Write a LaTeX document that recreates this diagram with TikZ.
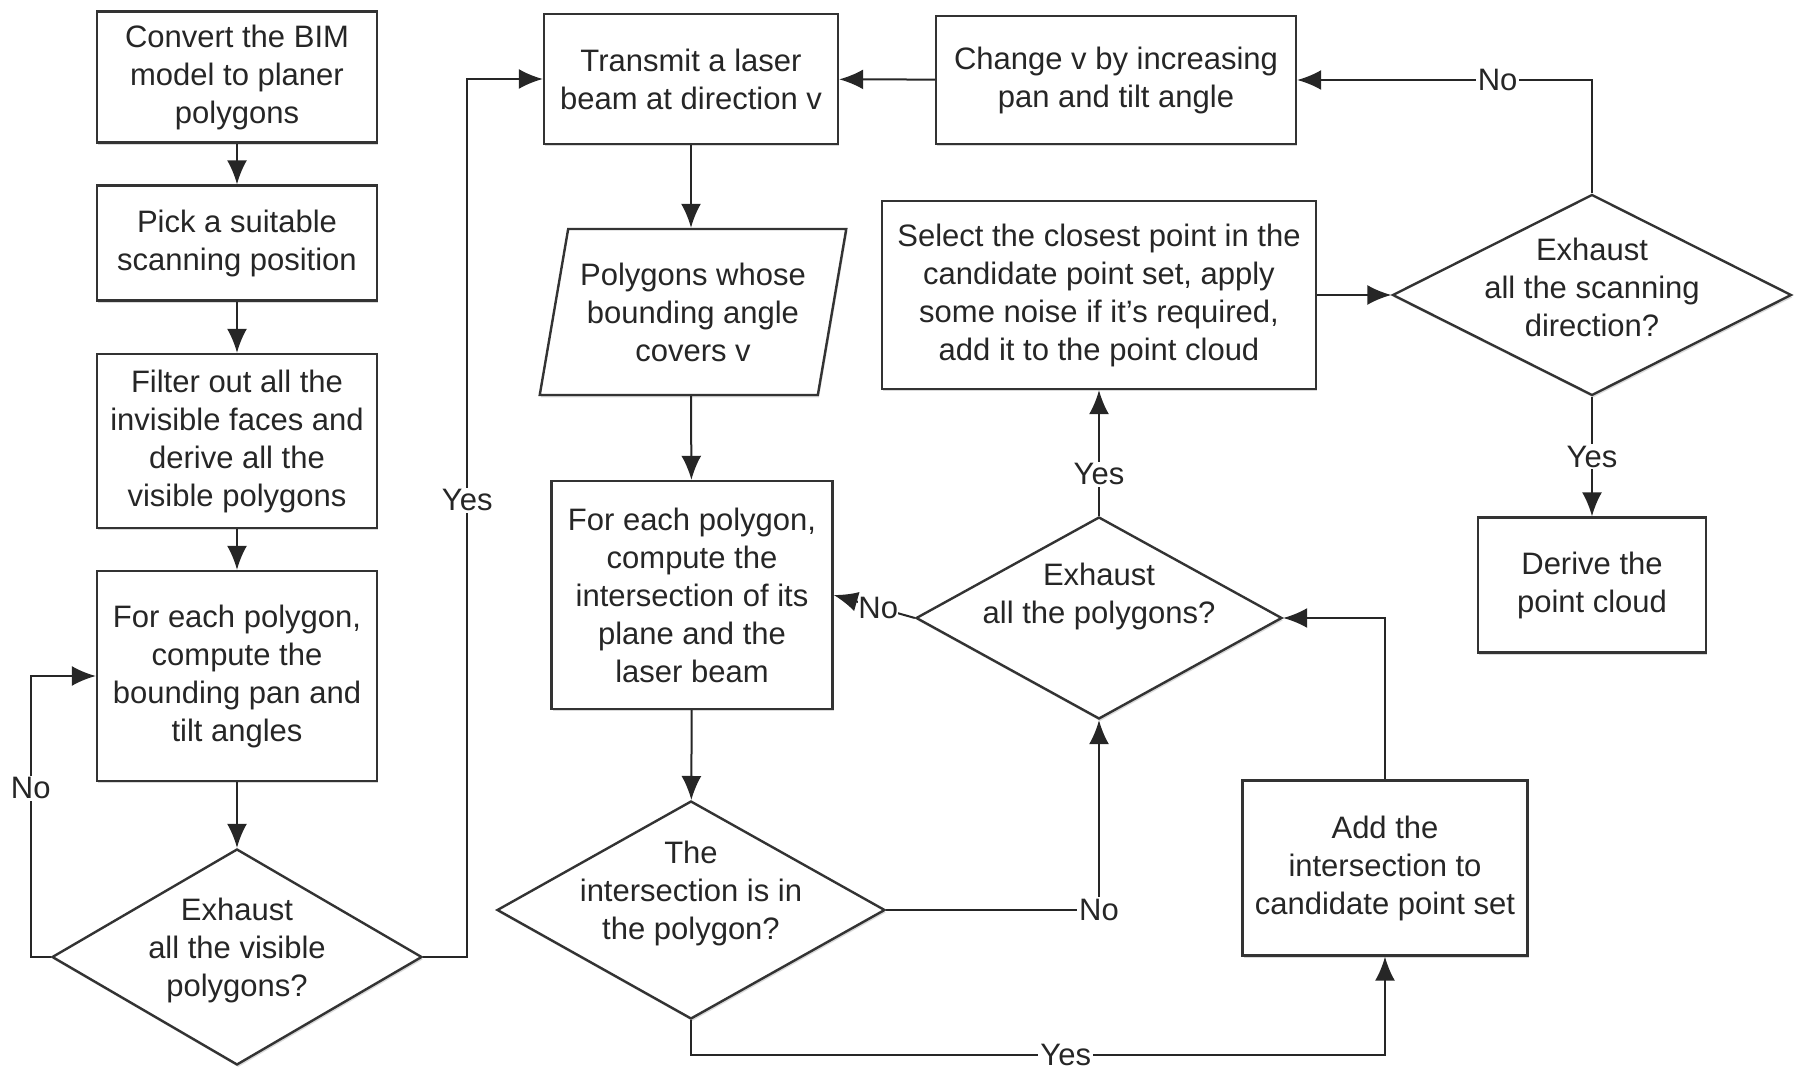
\documentclass[tikz,border=0pt]{standalone}
\usepackage{fontspec}
\setmainfont{Liberation Sans}
\usetikzlibrary{arrows.meta,shapes.geometric,shadows}

\begin{document}
\begin{tikzpicture}[x=0.5pt,y=-0.5pt,
  box/.style={draw=black!80, fill=white, line width=1.2pt, align=center, font=\fontsize{15.5}{19}\selectfont, text=black!85, inner sep=2pt, drop shadow={shadow xshift=0.6pt, shadow yshift=-1.2pt, opacity=0.3}},
  dec/.style={box, diamond, aspect=2, inner sep=-10pt},
  io/.style={box, trapezium, trapezium left angle=76, trapezium right angle=104, trapezium stretches=true},
  arr/.style={-{Latex[length=12pt,width=10pt]}, line width=1pt, draw=black!85},
  lab/.style={font=\fontsize{15.5}{19}\selectfont, text=black!85, fill=white, inner sep=1pt}]
\useasboundingbox (0,0) rectangle (1801,1074);
% left column
\node[box, minimum width=140pt, minimum height=65.5pt] (conv) at (237,77) {Convert the BIM\\model to planer\\polygons};
\node[box, minimum width=140pt, minimum height=57.5pt] (pick) at (237,243) {Pick a suitable\\scanning position};
\node[box, minimum width=140pt, minimum height=87pt] (filt) at (237,441) {Filter out all the\\invisible faces and\\derive all the\\visible polygons};
\node[box, minimum width=140pt, minimum height=105pt] (bound) at (237,676) {For each polygon,\\compute the\\bounding pan and\\tilt angles};
\node[dec, minimum width=185pt, minimum height=108pt] (exv) at (237,957) {Exhaust\\all the visible\\polygons?\\[-15pt]\strut};
% middle column
\node[box, minimum width=147pt, minimum height=65pt] (tran) at (691,79) {Transmit a laser\\beam at direction v};
\node[io, minimum width=153.5pt, minimum height=83pt] (poly) at (693,312) {Polygons whose\\bounding angle\\covers v};
\node[box, minimum width=140.5pt, minimum height=114pt] (isec) at (692,595) {For each polygon,\\compute the\\intersection of its\\plane and the\\laser beam};
\node[dec, minimum width=194pt, minimum height=109pt] (inpoly) at (691,910) {The\\intersection is in\\the polygon?\\[-5pt]\strut};
% right part
\node[box, minimum width=180pt, minimum height=64pt] (chg) at (1116,80) {Change v by increasing\\pan and tilt angle};
\node[box, minimum width=217pt, minimum height=94pt] (sel) at (1099,295) {Select the closest point in the\\candidate point set, apply\\some noise if it's required,\\add it to the point cloud};
\node[dec, minimum width=183pt, minimum height=101pt] (exp) at (1099,618) {Exhaust\\all the polygons?\\\strut};
\node[box, minimum width=142.5pt, minimum height=87.5pt] (add) at (1385,868) {Add the\\intersection to\\candidate point set};
\node[dec, minimum width=199.5pt, minimum height=100.5pt] (exs) at (1592,295) {Exhaust\\all the scanning\\direction?\\[-17pt]\strut};
\node[box, minimum width=114pt, minimum height=67.5pt] (der) at (1592,585) {Derive the\\point cloud};
% connectors
\draw[arr] (conv) -- (pick);
\draw[arr] (pick) -- (filt);
\draw[arr] (filt) -- (bound);
\draw[arr] (bound) -- (exv);
\draw[arr] (exv.west) -- ++(-20,0) |- node[lab, pos=0.3]{No} (bound.west);
\draw[arr] (exv.east) -- ++(44,0) |- node[lab, pos=0.26]{Yes} (tran.west);
\draw[arr] (chg) -- (tran);
\draw[arr] (tran) -- (tran |- poly.north);
\draw[arr] (tran |- poly.south) -- (isec);
\draw[arr] (isec) -- (inpoly);
\draw[arr] (inpoly.east) -| node[lab, pos=0.5]{No} (exp.south);
\draw[arr] (inpoly.south) -- ++(0,35) -| node[lab, pos=0.27]{Yes} (add.south);
\draw[arr] (add.north) |- (exp.east);
\draw[arr] (exp.west) -- node[lab, inner sep=0pt, pos=0.45]{No} (isec.east);
\draw[arr] (exp.north) -- node[lab, pos=0.33]{Yes} (sel.south);
\draw[arr] (sel.east) -- (exs.west);
\draw[arr] (exs.north) |- node[lab, pos=0.66]{No} (chg.east);
\draw[arr] (exs) -- node[lab]{Yes} (der);
\end{tikzpicture}
\end{document}
